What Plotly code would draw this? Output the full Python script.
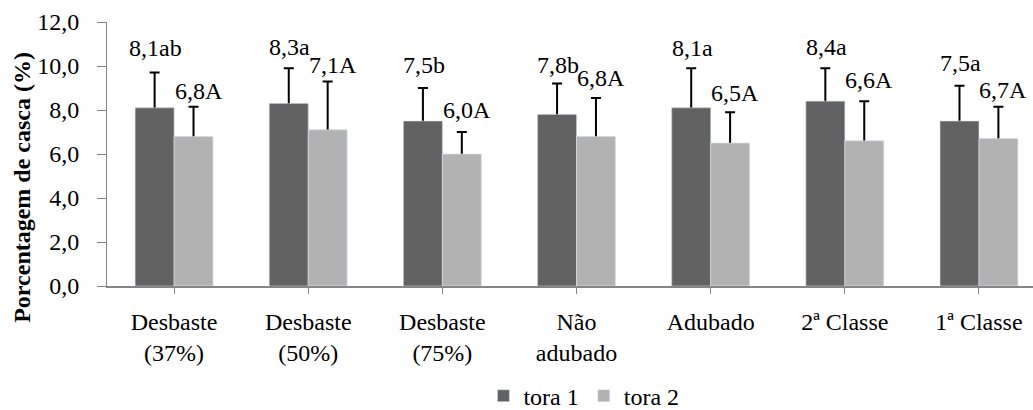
import plotly.graph_objects as go

categories = ["Desbaste<br>(37%)", "Desbaste<br>(50%)", "Desbaste<br>(75%)", "Não<br>adubado",
              "Adubado", "2ª Classe", "1ª Classe"]
tora1 = [8.1, 8.3, 7.5, 7.8, 8.1, 8.4, 7.5]
tora2 = [6.8, 7.1, 6.0, 6.8, 6.5, 6.6, 6.7]
tora1_err = [1.6, 1.6, 1.5, 1.4, 1.8, 1.5, 1.6]
tora2_err = [1.35, 2.2, 1.0, 1.75, 1.4, 1.8, 1.45]
tora1_labels = ["8,1ab", "8,3a", "7,5b", "7,8b", "8,1a", "8,4a", "7,5a"]
tora2_labels = ["6,8A", "7,1A", "6,0A", "6,8A", "6,5A", "6,6A", "6,7A"]
# heights (data units) where the letter labels sit
tora1_label_y = [10.82, 10.86, 10.05, 10.05, 10.82, 10.86, 10.14]
tora2_label_y = [8.86, 10.05, 8.0, 9.45, 8.77, 9.36, 8.91]

DARK = "#626262"
LIGHT = "#b2b2b2"
AXIS = "#868686"
FONT = "Liberation Serif"
FS = 24
BW = 0.29
HIDE = 0.1  # lower whisker tucked inside the bar, hidden by the cover bar

idx = list(range(len(categories)))

fig = go.Figure()
err_style = dict(type="data", symmetric=False, color="black", thickness=2, width=5)
fig.add_bar(x=idx, y=tora1, name="tora 1", marker_color=DARK, width=BW, offset=-BW,
            error_y=dict(array=tora1_err, arrayminus=[HIDE] * len(tora1), **err_style))
fig.add_bar(x=idx, y=tora2, name="tora 2", marker_color=LIGHT, width=BW, offset=0,
            error_y=dict(array=tora2_err, arrayminus=[HIDE] * len(tora2), **err_style))
# cover the lower error-bar caps so only the upper whisker shows
fig.add_bar(x=idx, y=tora1, marker_color=DARK, width=BW, offset=-BW, showlegend=False, hoverinfo="skip")
fig.add_bar(x=idx, y=tora2, marker_color=LIGHT, width=BW, offset=0, showlegend=False, hoverinfo="skip")

annotations = []
for i in idx:
    annotations.append(dict(x=i - BW / 2, y=tora1_label_y[i], xref="x", yref="y", text=tora1_labels[i],
                            showarrow=False, xshift=1, font=dict(family=FONT, size=FS, color="black")))
    annotations.append(dict(x=i + BW / 2, y=tora2_label_y[i], xref="x", yref="y", text=tora2_labels[i],
                            showarrow=False, xshift=5, font=dict(family=FONT, size=FS, color="black")))
annotations.append(dict(x=-0.092, y=0.375, xref="paper", yref="paper", text="<b>Porcentagem de casca (%)</b>",
                        textangle=-90, showarrow=False, xanchor="center", yanchor="middle",
                        font=dict(family=FONT, size=FS, color="black")))

fig.update_layout(
    width=1033, height=410,
    margin=dict(l=107, r=0, t=22, b=124, autoexpand=False),
    paper_bgcolor="white", plot_bgcolor="white",
    barmode="overlay",
    separators=", ",
    font=dict(family=FONT, size=FS, color="black"),
    showlegend=True,
    legend=dict(orientation="h", x=0.4065, y=-0.417, xanchor="left", yanchor="middle",
                font=dict(family=FONT, size=FS, color="black"), traceorder="normal"),
    annotations=annotations,
)
fig.update_xaxes(
    tickmode="array", tickvals=idx, ticktext=categories,
    range=[-0.5, 6.403], showgrid=False, zeroline=False, automargin=False,
    showline=True, linecolor=AXIS, linewidth=2,
    ticks="outside", ticklen=6, tickcolor=AXIS, tickwidth=1,
    ticklabelstandoff=7,
    tickfont=dict(family=FONT, size=FS, color="black"),
)
fig.update_yaxes(
    range=[0, 12], tickvals=[0, 2, 4, 6, 8, 10, 12], tickformat=".1f",
    showgrid=False, zeroline=False, automargin=False,
    showline=True, linecolor=AXIS, linewidth=1,
    ticks="outside", ticklen=9, tickcolor=AXIS, tickwidth=1,
    ticklabelstandoff=13,
    tickfont=dict(family=FONT, size=FS, color="black"),
)

fig.write_html("out.html", config={"displayModeBar": False},
               post_script="document.body.style.margin='0px';document.body.style.overflow='hidden';")
